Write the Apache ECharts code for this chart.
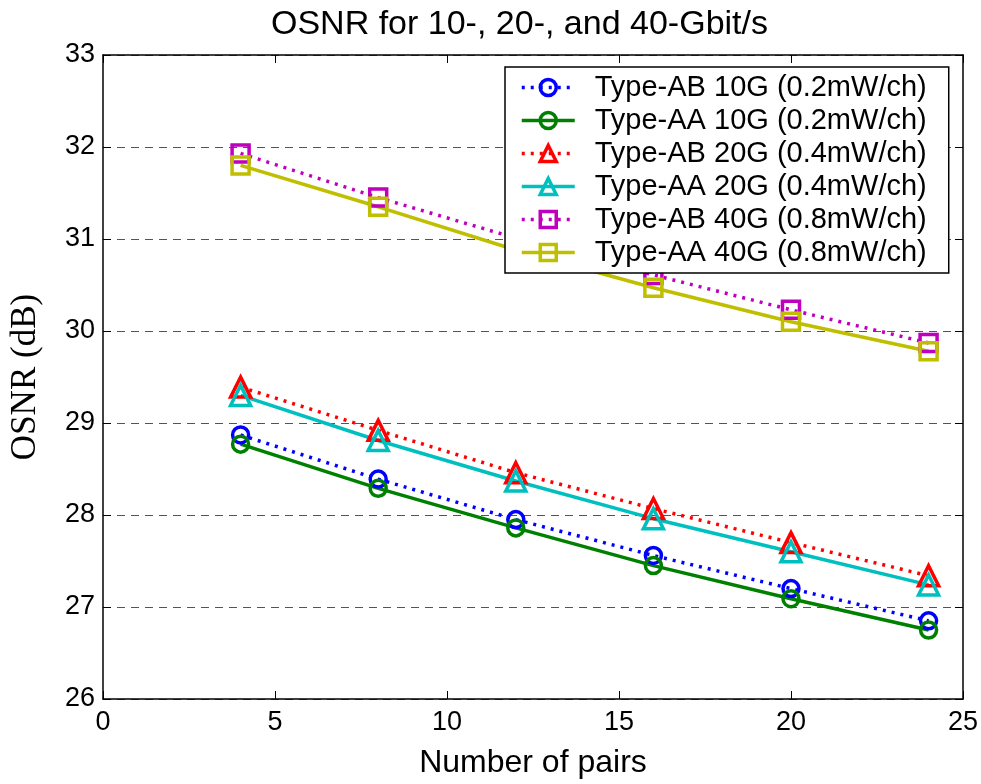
<!DOCTYPE html>
<html>
<head>
<meta charset="utf-8">
<script src="https://cdn.jsdelivr.net/npm/echarts@6/dist/echarts.min.js"></script>
<style>html,body{margin:0;padding:0;background:#fff}#c{width:981px;height:784px}</style>
</head>
<body>
<div id="c"></div>
<script>
const pairs = [4, 8, 12, 16, 20, 24];
const abType10 = [28.87, 28.39, 27.95, 27.56, 27.20, 26.85];
const aaType10 = [28.77, 28.29, 27.86, 27.45, 27.09, 26.75];
const abType20 = [29.39, 28.92, 28.46, 28.07, 27.70, 27.34];
const aaType20 = [29.30, 28.81, 28.37, 27.96, 27.60, 27.24];
const abType40 = [31.93, 31.45, 31.01, 30.61, 30.23, 29.87];
const aaType40 = [31.80, 31.35, 30.88, 30.47, 30.10, 29.78];
const seriesNames = [
  'Type-AB 10G (0.2mW/ch)', 'Type-AA 10G (0.2mW/ch)',
  'Type-AB 20G (0.4mW/ch)', 'Type-AA 20G (0.4mW/ch)',
  'Type-AB 40G (0.8mW/ch)', 'Type-AA 40G (0.8mW/ch)'
];
const xTicks = [0, 5, 10, 15, 20, 25];
const yTicks = [26, 27, 28, 29, 30, 31, 32, 33];

const font = 'Liberation Sans, Arial, sans-serif';
const dotted = [3, 6];
function mk(name, vals, color, symbol, size, dashed) {
  return {
    name: name, type: 'line', xAxisIndex: 0, yAxisIndex: 0,
    data: pairs.map((p, i) => [p, vals[i]]),
    symbol: symbol, symbolSize: size,
    lineStyle: { color: color, width: 3.5, type: dashed ? dotted : 'solid', cap: 'butt' },
    itemStyle: { color: 'rgba(0,0,0,0)', borderColor: color, borderWidth: 3.5 },
    emphasis: { disabled: true },
    animation: false, z: 3
  };
}
const series = [
  mk(seriesNames[0], abType10, '#0000ff', 'circle', 16, true),
  mk(seriesNames[1], aaType10, '#008000', 'circle', 16, false),
  mk(seriesNames[2], abType20, '#ff0000', 'triangle', 20, true),
  mk(seriesNames[3], aaType20, '#00bfbf', 'triangle', 20, false),
  mk(seriesNames[4], abType40, '#bf00bf', 'rect', 17, true),
  mk(seriesNames[5], aaType40, '#bfbf00', 'rect', 17, false)
];

const chart = echarts.init(document.getElementById('c'), null, { renderer: 'canvas' });
chart.setOption({
  backgroundColor: '#fff',
  animation: false,
  title: {
    text: 'OSNR for 10-, 20-, and 40-Gbit/s',
    left: 266, top: 3,
    textStyle: { fontFamily: font, fontSize: 34, fontWeight: 'normal', color: '#000' }
  },
  grid: { left: 102, top: 55, width: 864, height: 650, containLabel: false },
  legend: {
    orient: 'vertical', left: 505, top: 67,
    padding: [6, 22, 6, 15],
    itemWidth: 53, itemHeight: 20, itemGap: 4,
    backgroundColor: '#fff', borderColor: '#000', borderWidth: 1.5,
    lineStyle: { width: 3.5 },
    itemStyle: { borderWidth: 3.5 },
    textStyle: { fontFamily: font, fontSize: 29, color: '#000', padding: [0, 0, 0, 15] },
    data: seriesNames,
    selectedMode: false
  },
  xAxis: [{
    type: 'value', min: 0, max: 25, interval: 5,
    name: 'Number of pairs', nameLocation: 'middle', nameGap: 48,
    nameTextStyle: { fontFamily: font, fontSize: 32, color: '#000' },
    axisLine: { lineStyle: { color: '#000', width: 1.5 } },
    axisTick: { inside: true, length: 8, lineStyle: { color: '#000' } },
    axisLabel: { fontFamily: font, fontSize: 27, color: '#000', margin: 10,
      formatter: v => xTicks.includes(v) ? String(v) : '' },
    splitLine: { show: false }
  }, {
    type: 'value', min: 0, max: 25, interval: 5, position: 'top',
    axisLine: { onZero: false, lineStyle: { color: '#000', width: 1.5 } },
    axisTick: { inside: true, length: 8, lineStyle: { color: '#000' } },
    axisLabel: { show: false }, splitLine: { show: false }
  }],
  yAxis: [{
    type: 'value', min: 26, max: 33, interval: 1,
    name: 'OSNR (dB)', nameLocation: 'middle', nameGap: 60,
    nameTextStyle: { fontFamily: 'Liberation Serif, Times New Roman, serif', fontSize: 35, color: '#000' },
    axisLine: { show: true, lineStyle: { color: '#000', width: 1.5 } },
    axisTick: { show: true, inside: true, length: 8, lineStyle: { color: '#000' } },
    axisLabel: { fontFamily: font, fontSize: 27, color: '#000', margin: 8,
      formatter: v => yTicks.includes(v) ? String(v) : '' },
    splitLine: { show: true, lineStyle: { color: '#555', width: 1, type: [8, 6] } }
  }, {
    type: 'value', min: 26, max: 33, interval: 1, position: 'right',
    axisLine: { show: true, onZero: false, lineStyle: { color: '#000', width: 1.5 } },
    axisTick: { show: true, inside: true, length: 8, lineStyle: { color: '#000' } },
    axisLabel: { show: false }, splitLine: { show: false }
  }],
  series: series
});
</script>
</body>
</html>
